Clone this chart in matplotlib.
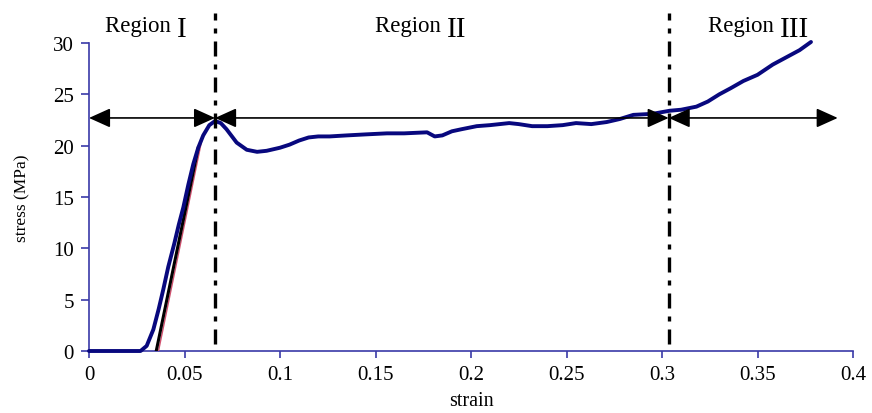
import matplotlib
matplotlib.use("Agg")
import matplotlib.pyplot as plt

# ---- data ----
strain = [0, 0.027, 0.0302, 0.0337, 0.0365, 0.0389, 0.0415, 0.0447, 0.047, 0.0494,
          0.052, 0.0546, 0.0572, 0.0598, 0.063, 0.066, 0.069, 0.072, 0.0773,
          0.0826, 0.088, 0.093, 0.100, 0.105, 0.110, 0.115, 0.120, 0.126, 0.135, 0.145,
          0.156, 0.165, 0.177, 0.181, 0.185, 0.19, 0.195, 0.203, 0.21, 0.22, 0.225,
          0.232, 0.24, 0.248, 0.255, 0.263, 0.271, 0.278, 0.285, 0.295, 0.304, 0.31,
          0.318, 0.324, 0.330, 0.336, 0.3426, 0.350, 0.358, 0.365, 0.372, 0.378]
stress = [0, 0, 0.5, 2.1, 4.1, 6.0, 8.2, 10.5, 12.3, 14.0,
          16.2, 18.2, 19.8, 21.0, 22.0, 22.4, 22.2, 21.6, 20.3,
          19.6, 19.4, 19.5, 19.8, 20.1, 20.5, 20.8, 20.9, 20.9, 21.0, 21.1,
          21.2, 21.2, 21.3, 20.9, 21.0, 21.4, 21.6, 21.9, 22.0, 22.2, 22.1,
          21.9, 21.9, 22.0, 22.2, 22.1, 22.3, 22.6, 23.0, 23.1, 23.4, 23.5,
          23.8, 24.3, 25.0, 25.6, 26.3, 26.9, 27.9, 28.6, 29.3, 30.1]

fit_black_x = [0.0352, 0.0572]
fit_black_y = [0, 19.8]
fit_red_x = [0.0364, 0.059]
fit_red_y = [0, 20.5]

region_bounds = [0.0, 0.066, 0.3035, 0.392]
arrow_stress = 22.7
region_words = ["Region", "Region", "Region"]
region_numerals = ["I", "II", "III"]

xticks = [0, 0.05, 0.1, 0.15, 0.2, 0.25, 0.3, 0.35, 0.4]
xticklabels = ["0", "0.05", "0.1", "0.15", "0.2", "0.25", "0.3", "0.35", "0.4"]
yticks = [0, 5, 10, 15, 20, 25, 30]

# ---- figure ----
plt.rcParams['font.family'] = ['Liberation Serif', 'DejaVu Serif']
fig = plt.figure(figsize=(8.72, 4.14), dpi=100)
ax = fig.add_axes([89/872, 1 - 352/414, (853-89)/872, (352-44)/414])

spine_col = '#3a3aa8'
ax.set_xlim(0, 0.4)
ax.set_ylim(0, 30)
for s in ['top', 'right']:
    ax.spines[s].set_visible(False)
for s in ['left', 'bottom']:
    ax.spines[s].set_color(spine_col)
    ax.spines[s].set_linewidth(1.2)
    ax.spines[s].set_zorder(1)

ax.set_xticks(xticks)
ax.set_xticklabels(xticklabels)
ax.set_yticks(yticks)
ax.tick_params(axis='x', direction='out', length=5, width=1.2, color=spine_col,
               labelsize=15, pad=5)
ax.tick_params(axis='y', direction='out', length=6, width=1.2, color=spine_col,
               labelsize=15, pad=5)

ax.set_xlabel('strain', fontsize=14.5, labelpad=5)
ax.set_ylabel('stress (MPa)', fontsize=12.5, labelpad=16)

# fit lines
ax.plot(fit_red_x, fit_red_y, color='#d0506e', lw=1.0, zorder=3)
ax.plot(fit_black_x, fit_black_y, color='black', lw=2.2, zorder=4)

# curve
ax.plot(strain, stress, color='#08087e', lw=2.8, zorder=5, clip_on=False,
        solid_capstyle='round')

# dashed region boundaries
for xb in region_bounds[1:3]:
    ax.plot([xb, xb], [0.7, 32.9], color='black', lw=2.4,
            linestyle=(0, (4.5, 2.4, 1.5, 2.4)), clip_on=False, zorder=6)

# double arrows
for a, b in zip(region_bounds[:-1], region_bounds[1:]):
    ax.annotate('', xy=(b, arrow_stress), xytext=(a, arrow_stress),
                arrowprops=dict(arrowstyle='<|-|>,head_length=0.82,head_width=0.37',
                                color='black', lw=1.2, shrinkA=0, shrinkB=0,
                                mutation_scale=16),
                annotation_clip=False, zorder=7)

# region labels
label_pos = [(0.0084, 31.2), (0.1497, 31.2), (0.324, 31.2)]
for (x0, y0), word, num in zip(label_pos, region_words, region_numerals):
    t = ax.text(x0, y0, word + ' ', fontsize=16.5, ha='left', va='baseline',
                clip_on=False)
    ax.annotate(num, xycoords=t, xy=(1, 0), va='baseline', ha='left',
                fontsize=21, annotation_clip=False)

fig.savefig('out.png', dpi=100)
